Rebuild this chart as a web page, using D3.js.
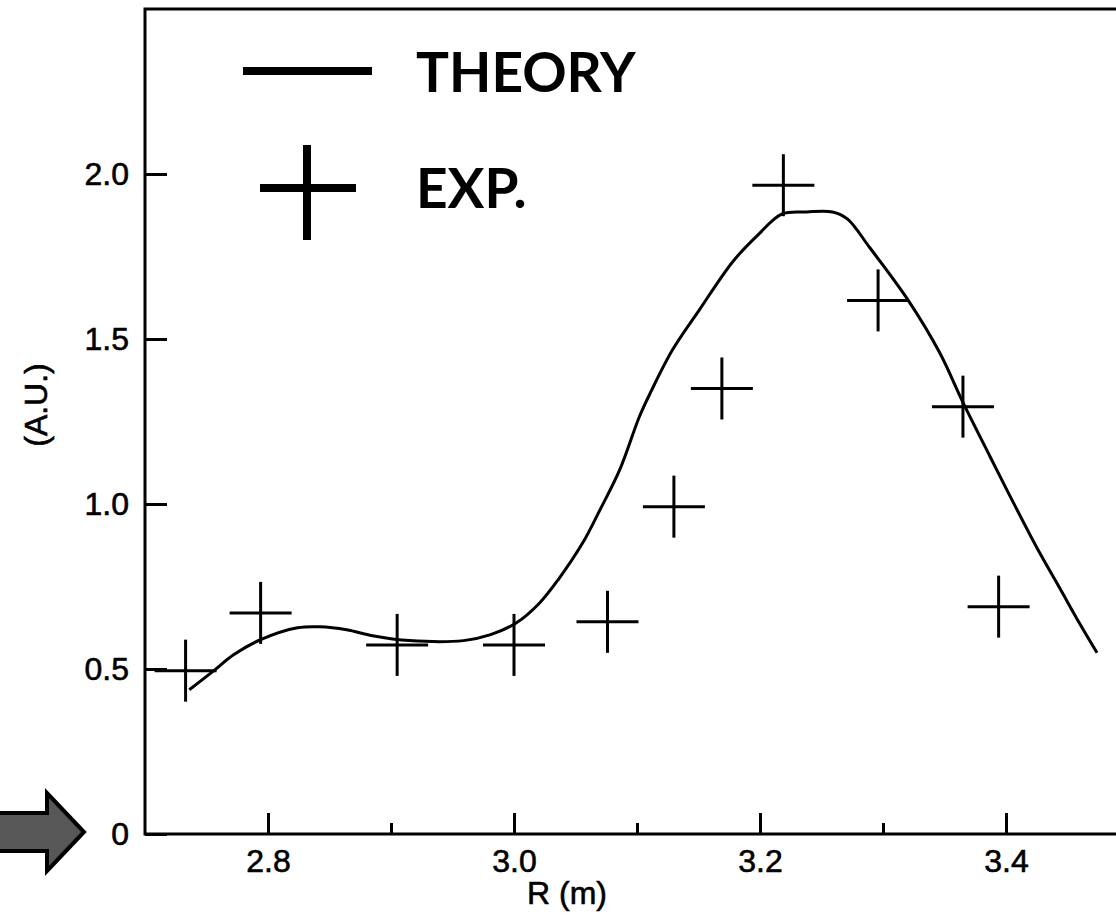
<!DOCTYPE html>
<html>
<head>
<meta charset="utf-8">
<script src="https://cdn.jsdelivr.net/npm/d3@7"></script>
<style>
  html, body { margin: 0; padding: 0; background: #fff; }
  svg { display: block; }
  .tick text { font-family: "Liberation Sans", Arial, sans-serif; font-size: 32px; fill: #000; stroke: #000; stroke-width: 0.6px; }
  .title { font-family: "Liberation Sans", Arial, sans-serif; font-size: 32px; fill: #000; stroke: #000; stroke-width: 0.6px; }
</style>
</head>
<body>
<div id="chart"></div>
<script>
var width = 1116, height = 922;

// theory curve
const theoryR = [2.736, 2.755, 2.772, 2.794, 2.824, 2.842, 2.864, 2.885, 2.915, 2.959, 2.981,
  3.002, 3.021, 3.036, 3.056, 3.070, 3.086, 3.102, 3.111, 3.129, 3.151, 3.178, 3.198, 3.218,
  3.238, 3.259, 3.271, 3.289, 3.320, 3.346, 3.365, 3.387, 3.406, 3.425, 3.444, 3.460, 3.474];
const theoryVal = [0.437, 0.492, 0.543, 0.589, 0.625, 0.628, 0.619, 0.601, 0.586, 0.586, 0.604,
  0.640, 0.701, 0.771, 0.883, 0.983, 1.104, 1.265, 1.338, 1.468, 1.590, 1.735, 1.814, 1.879,
  1.885, 1.885, 1.864, 1.778, 1.620, 1.459, 1.308, 1.144, 1.004, 0.868, 0.743, 0.637, 0.549];

// experimental points
const expR = [2.733, 2.794, 2.905, 3.000, 3.076, 3.130, 3.169, 3.219, 3.296, 3.365, 3.394];
const expVal = [0.495, 0.670, 0.573, 0.573, 0.643, 0.992, 1.350, 1.966, 1.617, 1.295, 0.689];

const xMajor = [2.8, 3.0, 3.2, 3.4];
const xMinor = [2.9, 3.1, 3.3];
const yTicks = [0, 0.5, 1.0, 1.5, 2.0];
const legendLabels = ["THEORY", "EXP."];

const x = d3.scaleLinear().domain([2.7, 3.5]).range([145, 1129]);
const y = d3.scaleLinear().domain([0, 2.5]).range([834, 9]);

const svg = d3.select("#chart").append("svg")
  .attr("width", width)
  .attr("height", height);

// frame (right side runs off the picture)
svg.append("rect")
  .attr("x", x(2.7)).attr("y", y(2.5))
  .attr("width", x(3.5) - x(2.7)).attr("height", y(0) - y(2.5))
  .attr("fill", "none").attr("stroke", "#000").attr("stroke-width", 3);

// x axis
const xAxis = svg.append("g")
  .attr("transform", `translate(0,${y(0)})`)
  .call(d3.axisBottom(x).tickValues(xMajor).tickSizeInner(-21).tickSizeOuter(0)
    .tickPadding(15).tickFormat(d3.format(".1f")));
xAxis.select(".domain").remove();
xAxis.selectAll(".tick line").attr("stroke-width", 3);

const xAxisMinor = svg.append("g")
  .attr("transform", `translate(0,${y(0)})`)
  .call(d3.axisBottom(x).tickValues(xMinor).tickSizeInner(-11).tickSizeOuter(0).tickFormat(""));
xAxisMinor.select(".domain").remove();
xAxisMinor.selectAll(".tick line").attr("stroke-width", 3);

// y axis
const yAxis = svg.append("g")
  .attr("transform", `translate(${x(2.7)},0)`)
  .call(d3.axisLeft(y).tickValues(yTicks).tickSizeInner(-22).tickSizeOuter(0)
    .tickPadding(16).tickFormat(d => d === 0 ? "0" : d3.format(".1f")(d)));
yAxis.select(".domain").remove();
yAxis.selectAll(".tick line").attr("stroke-width", 3);

// axis titles
svg.append("text")
  .attr("class", "title")
  .attr("x", x(3.0) + 53).attr("y", 904)
  .attr("text-anchor", "middle")
  .text("R (m)");

svg.append("text")
  .attr("class", "title")
  .attr("transform", `translate(47,${y(1.3)}) rotate(-90)`)
  .attr("text-anchor", "middle")
  .text("(A.U.)");

// theory line
const theory = theoryR.map((r, i) => [r, theoryVal[i]]);
svg.append("path")
  .datum(theory)
  .attr("fill", "none")
  .attr("stroke", "#000")
  .attr("stroke-width", 3)
  .attr("d", d3.line().x(d => x(d[0])).y(d => y(d[1])).curve(d3.curveCatmullRom.alpha(0.5)));

// experimental crosses
const exp = expR.map((r, i) => [r, expVal[i]]);
const cr = 31;
const crosses = svg.append("g").selectAll("g")
  .data(exp)
  .enter().append("g")
  .attr("transform", d => `translate(${x(d[0])},${y(d[1])})`);
crosses.append("line").attr("x1", -cr).attr("x2", cr)
  .attr("stroke", "#000").attr("stroke-width", 3);
crosses.append("line").attr("y1", -cr).attr("y2", cr)
  .attr("stroke", "#000").attr("stroke-width", 3);

// legend
const legend = svg.append("g");
legend.append("line")
  .attr("x1", 243).attr("x2", 372).attr("y1", 71).attr("y2", 71)
  .attr("stroke", "#000").attr("stroke-width", 8);
legend.append("line")
  .attr("x1", 260).attr("x2", 356).attr("y1", 188).attr("y2", 188)
  .attr("stroke", "#000").attr("stroke-width", 8);
legend.append("line")
  .attr("x1", 307).attr("x2", 307).attr("y1", 145).attr("y2", 240)
  .attr("stroke", "#000").attr("stroke-width", 8);
legend.selectAll("text")
  .data(legendLabels)
  .enter().append("text")
  .attr("x", 416)
  .attr("y", (d, i) => i === 0 ? 92 : 208)
  .attr("font-family", "Lato, 'Open Sans', sans-serif")
  .attr("font-weight", "bold")
  .attr("font-size", 55)
  .text(d => d);

// arrow pointing at zero
const ay = y(0) - 2;
svg.append("path")
  .attr("d", `M-10,${ay - 19} L47,${ay - 19} L47,${ay - 39} L84,${ay} L47,${ay + 39} L47,${ay + 19} L-10,${ay + 19} Z`)
  .attr("fill", "#575757")
  .attr("stroke", "#000")
  .attr("stroke-width", 4)
  .attr("stroke-linejoin", "miter");
</script>
</body>
</html>
